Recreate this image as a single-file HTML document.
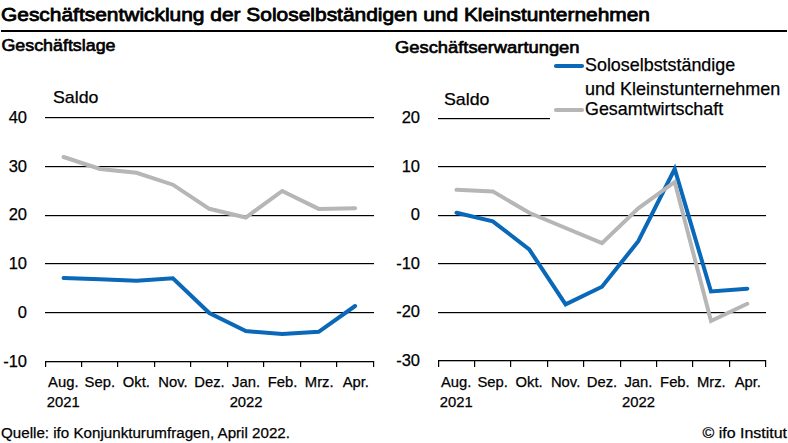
<!DOCTYPE html>
<html><head><meta charset="utf-8">
<style>
html,body{margin:0;padding:0;background:#fff;width:788px;height:443px;overflow:hidden}
svg{display:block}
text{font-family:"Liberation Sans",sans-serif;fill:#000;stroke:#000;stroke-width:0.25px}
.b{font-weight:normal;stroke:#000;stroke-width:0.8px;stroke-linejoin:round}
.s{stroke-width:0.65px}
</style></head>
<body>
<svg width="788" height="443" viewBox="0 0 788 443">
<!-- title -->
<text class="b" x="1" y="20.6" font-size="18.6" textLength="649" lengthAdjust="spacingAndGlyphs">Geschäftsentwicklung der Soloselbständigen und Kleinstunternehmen</text>
<rect x="1" y="30" width="786" height="2" fill="#000"/>
<text class="b s" x="1.5" y="50.6" font-size="16.6" textLength="114" lengthAdjust="spacingAndGlyphs">Geschäftslage</text>
<text class="b s" x="395" y="52.7" font-size="16.6" textLength="184.5" lengthAdjust="spacingAndGlyphs">Geschäftserwartungen</text>

<!-- left chart grid -->
<g fill="#000">
<rect x="45" y="117" width="329" height="1.2"/>
<rect x="45" y="166" width="329" height="1.2"/>
<rect x="45" y="215" width="329" height="1.2"/>
<rect x="45" y="263" width="329" height="1.2"/>
<rect x="45" y="312" width="329" height="1.2"/>
<rect x="45" y="361" width="329" height="1.3"/>
</g>
<g stroke="#000" stroke-width="1.2">
<path d="M45.6 361V367M81.6 361V367M117.6 361V367M154.6 361V367M190.6 361V367M227.6 361V367M263.6 361V367M300.6 361V367M336.6 361V367M373.6 361V367"/>
</g>
<g font-size="16.5" text-anchor="end">
<text x="27" y="122.9">40</text>
<text x="27" y="171.9">30</text>
<text x="27" y="219.9">20</text>
<text x="27" y="268.9">10</text>
<text x="27" y="317.9">0</text>
<text x="27" y="366.9">-10</text>
</g>
<text x="53" y="102.8" font-size="17" textLength="45.5" lengthAdjust="spacingAndGlyphs">Saldo</text>

<!-- right chart grid -->
<g fill="#000">
<rect x="438" y="118" width="112" height="1.2"/>
<rect x="438" y="166" width="328" height="1.2"/>
<rect x="438" y="215" width="328" height="1.2"/>
<rect x="438" y="263" width="328" height="1.2"/>
<rect x="438" y="312" width="328" height="1.2"/>
<rect x="438" y="360" width="328" height="1.3"/>
</g>
<g stroke="#000" stroke-width="1.2">
<path d="M438.6 360V367M474.6 360V367M510.6 360V367M547.6 360V367M583.6 360V367M620.6 360V367M656.6 360V367M692.6 360V367M729.6 360V367M765.6 360V367"/>
</g>
<g font-size="16.5" text-anchor="end">
<text x="420" y="122.7">20</text>
<text x="420" y="171.9">10</text>
<text x="420" y="219.9">0</text>
<text x="420" y="268.9">-10</text>
<text x="420" y="316.9">-20</text>
<text x="420" y="365.9">-30</text>
</g>
<text x="444" y="104.8" font-size="17" textLength="45.5" lengthAdjust="spacingAndGlyphs">Saldo</text>

<!-- x labels -->
<g font-size="14.8" text-anchor="middle">
<text x="63.3" y="387.3">Aug.</text>
<text x="99.8" y="387.3">Sep.</text>
<text x="136.4" y="387.3">Okt.</text>
<text x="173" y="387.3">Nov.</text>
<text x="209.5" y="387.3">Dez.</text>
<text x="246.1" y="387.3">Jan.</text>
<text x="282.6" y="387.3">Feb.</text>
<text x="319.2" y="387.3">Mrz.</text>
<text x="355.8" y="387.3">Apr.</text>
<text x="63.3" y="407.4">2021</text>
<text x="246.1" y="407.4">2022</text>

<text x="456.2" y="386.7">Aug.</text>
<text x="492.7" y="386.7">Sep.</text>
<text x="529.1" y="386.7">Okt.</text>
<text x="565.6" y="386.7">Nov.</text>
<text x="602" y="386.7">Dez.</text>
<text x="638.4" y="386.7">Jan.</text>
<text x="674.9" y="386.7">Feb.</text>
<text x="711.3" y="386.7">Mrz.</text>
<text x="747.8" y="386.7">Apr.</text>
<text x="456.2" y="406.9">2021</text>
<text x="638.4" y="406.9">2022</text>
</g>

<!-- data lines -->
<g fill="none" stroke-width="4" stroke-linecap="round" stroke-linejoin="miter" stroke-miterlimit="10">
<path stroke="#b6b6b6" d="M63.6 157L100.0 169L136.5 172.8L172.9 184.7L209.3 208.8L245.8 217.5L282.2 191L318.7 208.9L355.1 208.2"/>
<path stroke="#0968b8" d="M63.6 277.9L100.0 279.2L136.5 280.8L172.9 278.3L209.3 313L245.8 331.1L282.2 333.9L318.7 331.8L355.1 306"/>
<path stroke="#0968b8" d="M456.5 212.8L492.8 221.3L529.2 249.4L565.6 304.4L602.0 286.7L638.3 241.2L674.7 169L711.0 291.5L747.3 288.7"/>
<path stroke="#b6b6b6" d="M456.5 189.8L492.8 191.4L529.2 212.8L565.6 228L602.0 243.2L638.3 208.4L674.7 182L711.0 321L747.3 303.8"/>
</g>

<!-- legend -->
<path d="M556 66H582" stroke="#0968b8" stroke-width="4.2" stroke-linecap="round"/>
<path d="M556 110H582" stroke="#b6b6b6" stroke-width="4.2" stroke-linecap="round"/>
<g font-size="17.9">
<text x="585" y="71">Soloselbstständige</text>
<text x="585" y="94.5" textLength="195.3" lengthAdjust="spacingAndGlyphs">und Kleinstunternehmen</text>
<text x="585" y="114.7">Gesamtwirtschaft</text>
</g>

<!-- footer -->
<text x="1" y="437.5" font-size="15.2" textLength="289" lengthAdjust="spacingAndGlyphs">Quelle: ifo Konjunkturumfragen, April 2022.</text>
<text x="702.5" y="437.6" font-size="15" textLength="84.5" lengthAdjust="spacingAndGlyphs">© ifo Institut</text>
</svg>
</body></html>
